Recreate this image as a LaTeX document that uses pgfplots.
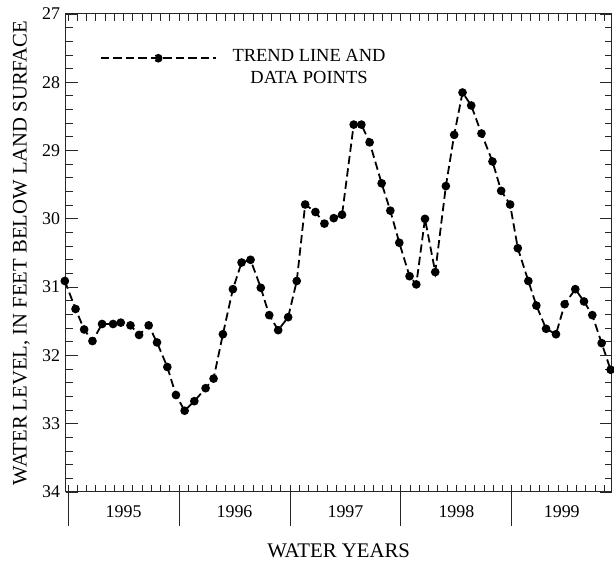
\documentclass[border=0pt]{standalone}
\usepackage{fontspec}
\setmainfont{Liberation Serif}
\usepackage{pgfplots}
\pgfplotsset{compat=1.18}
\begin{document}
\begin{tikzpicture}
\pgfplotsset{
  common/.style={
    scale only axis, width=547.3bp, height=479bp,
    xmin=-0.28, xmax=58.8,
    ymin=27, ymax=34, y dir=reverse,
    /pgf/number format/assume math mode=true,
  }
}
% main axis: data, labels, short ticks
\begin{axis}[common,
  clip=false,
  axis line style={line width=1bp, black!85},
  every tick/.style={line width=0.9bp, black!85},
  tick align=inside,
  xtick={0,1,...,58},
  xticklabels={},
  ytick={27,28,...,34},
  minor y tick num=4,
  major tick length=7bp, minor tick length=7bp,
  yticklabel style={font=\fontsize{18}{20}\selectfont, xshift=-2bp},
  every axis y label/.style={at={(axis description cs:-0.0713,0.5)}, rotate=90, anchor=base, font=\fontsize{20.8}{22}\selectfont},
  ylabel={WATER LEVEL, IN FEET BELOW LAND SURFACE},
  every axis x label/.style={at={(axis description cs:0.5,-0.1363)}, anchor=base, font=\fontsize{20.9}{22}\selectfont},
  xlabel={WATER YEARS},
  legend style={draw=none, fill=none, inner sep=0pt, at={(0.0627,0.93)}, anchor=north west,
    font=\fontsize{18.6}{21.6}\selectfont, cells={align=center},
    /tikz/every odd column/.append style={column sep=14bp}},
  legend image code/.code={
    \draw[dash pattern=on 8.3bp off 4.2bp, line width=1.8bp] (0bp,9bp) -- (115bp,9bp);
    \fill (57.5bp,9bp) circle (3.4bp);
  },
]
\addplot[black, line width=1.8bp, dash pattern=on 8.3bp off 4.2bp, mark=*, mark size=3.4bp, mark options={solid}]
coordinates {
(-0.36,30.91) (0.80,31.32) (1.73,31.62) (2.63,31.79) (3.67,31.54) (4.86,31.54)
(5.69,31.52) (6.74,31.56) (7.67,31.70) (8.71,31.56) (9.61,31.81) (10.73,32.17)
(11.66,32.58) (12.60,32.81) (13.65,32.67) (14.87,32.48) (15.73,32.34) (16.74,31.69)
(17.82,31.03) (18.76,30.64) (19.73,30.60) (20.84,31.01) (21.75,31.41) (22.72,31.63)
(23.80,31.44) (24.73,30.91) (25.64,29.79) (26.75,29.90) (27.72,30.07) (28.73,29.99)
(29.63,29.94) (30.89,28.62) (31.72,28.62) (32.61,28.88) (33.91,29.48) (34.85,29.88)
(35.82,30.35) (36.93,30.84) (37.66,30.96) (38.60,30.00) (39.71,30.78) (40.86,29.52)
(41.76,28.77) (42.66,28.15) (43.60,28.34) (44.71,28.75) (45.90,29.16) (46.84,29.59)
(47.81,29.79) (48.64,30.43) (49.78,30.91) (50.65,31.27) (51.70,31.61) (52.77,31.69)
(53.71,31.25) (54.86,31.03) (55.80,31.21) (56.70,31.41) (57.71,31.82) (58.68,32.21)
};
\addlegendentry{TREND LINE AND\\DATA POINTS}
\end{axis}
% long y ticks (inside, both sides)
\begin{axis}[common,
  hide x axis,
  axis line style={draw=none},
  every tick/.style={line width=0.9bp, black!85},
  tick align=inside,
  ytick={27,28,...,34},
  yticklabels={},
  major tick length=12bp,
]
\end{axis}
% year boundaries and year labels
\begin{axis}[common,
  hide y axis,
  axis x line*=bottom,
  axis line style={draw=none},
  every tick/.style={line width=0.9bp, black!85},
  tick align=outside,
  major tick length=34bp,
  xtick={0,12,24,36,48},
  xticklabels={},
  extra x ticks={6,18,30,42,53.4},
  extra x tick labels={1995,1996,1997,1998,1999},
  extra x tick style={major tick length=0pt, tick style={draw=none}},
  xticklabel style={anchor=base, font=\fontsize{18}{20}\selectfont, yshift=-25.3bp},
]
\end{axis}
\path (-65.7bp,-68bp) rectangle (548.3bp,493bp);
\end{tikzpicture}
\end{document}
